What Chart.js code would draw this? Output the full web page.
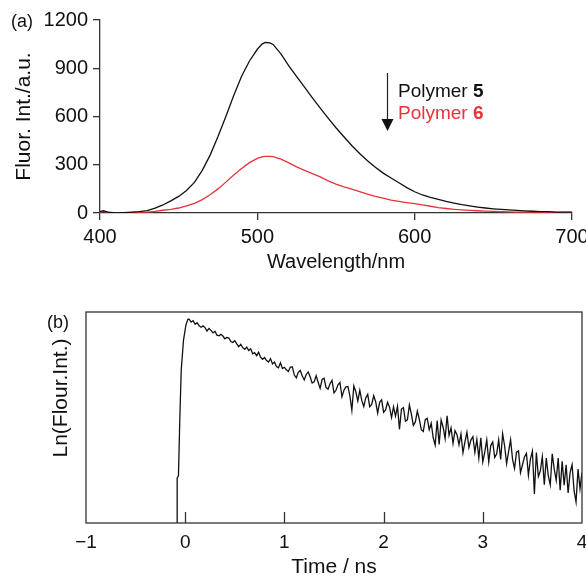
<!DOCTYPE html>
<html><head><meta charset="utf-8">
<script src="https://cdn.jsdelivr.net/npm/chart.js@4/dist/chart.umd.min.js"></script>
<style>
html,body{margin:0;padding:0;background:#fff;overflow:hidden;width:586px;height:577px;}
#wa{position:absolute;left:0;top:0;}
#wb{position:absolute;left:0;top:290px;}
</style></head><body>
<div id="wa"><canvas id="ca" width="600" height="290"></canvas></div>
<div id="wb"><canvas id="cb" width="600" height="300"></canvas></div>
<script>
// ---- Panel (a): fluorescence spectra ----
const wavelength = [400,402,405,410,415,420,425,430,435,440,445,450,455,460,465,470,475,480,485,490,495,500,503,505,508,510,515,520,525,530,535,540,545,550,555,560,565,570,575,580,585,590,595,600,605,610,615,620,625,630,635,640,645,650,655,660,665,670,675,680,685,690,695,700];
const polymer5 = [8,15,5,0,2,5,8,15,30,50,75,103,140,190,265,360,475,600,730,850,945,1018,1050,1060,1058,1048,990,915,848,782,716,652,590,530,474,420,370,325,285,248,218,188,158,132,112,97,84,72,62,52,44,37,31,26,22,19,16,13,11,9,8,6,5,5];
const polymer6 = [5,12,3,0,1,2,4,6,10,17,23,31,45,60,83,113,150,192,236,277,313,340,349,352,352,350,335,312,287,265,245,225,200,180,162,148,133,118,104,92,80,72,65,58,50,42,34,28,23,19,16,14,12,10,8,7,6,5,5,4,4,3,3,3];
const xTicksA = [400,500,600,700];
const yTicksA = [0,300,600,900,1200];
const seriesNamesA = ['Polymer ', '5', 'Polymer ', '6'];

// ---- Panel (b): fluorescence decay ----
const decayTime = [-0.081,-0.081,-0.068,-0.055,-0.04,-0.017,0.007,0.027,
0.04,0.06,0.08,0.10,0.12,0.14,0.16,0.18,0.20,0.22,
0.24,0.26,0.28,0.30,0.32,0.34,0.36,0.38,0.40,0.42,
0.44,0.46,0.48,0.50,0.52,0.54,0.56,0.58,0.60,0.62,
0.64,0.66,0.68,0.70,0.72,0.74,0.76,0.78,0.80,0.82,
0.84,0.86,0.88,0.90,0.92,0.94,0.96,0.98,1.00,1.02,
1.04,1.06,1.08,1.10,1.12,1.14,1.16,1.18,1.20,1.22,
1.24,1.26,1.28,1.30,1.32,1.34,1.36,1.38,1.40,1.42,
1.44,1.46,1.48,1.50,1.52,1.54,1.56,1.58,1.60,1.62,
1.64,1.66,1.68,1.70,1.72,1.74,1.76,1.78,1.80,1.82,
1.84,1.86,1.88,1.90,1.92,1.94,1.96,1.98,2.00,2.02,
2.04,2.06,2.08,2.10,2.12,2.14,2.16,2.18,2.20,2.22,
2.24,2.26,2.28,2.30,2.32,2.34,2.36,2.38,2.40,2.42,
2.44,2.46,2.48,2.50,2.52,2.54,2.56,2.58,2.60,2.62,
2.64,2.66,2.68,2.70,2.72,2.74,2.76,2.78,2.80,2.82,
2.84,2.86,2.88,2.90,2.92,2.94,2.96,2.98,3.00,3.02,
3.04,3.06,3.08,3.10,3.12,3.14,3.16,3.18,3.20,3.22,
3.24,3.26,3.28,3.30,3.32,3.34,3.36,3.38,3.40,3.42,
3.44,3.46,3.48,3.50,3.52,3.54,3.56,3.58,3.60,3.62,
3.64,3.66,3.68,3.70,3.72,3.74,3.76,3.78,3.80,3.82,
3.84,3.86,3.88,3.90,3.92,3.94,3.96,3.98,4.00];
const decayLn = [0,21.3,22.5,48,72.5,86.7,93.8,96.5,
96.6,95.2,95.9,94.2,94.9,93.5,92.8,93.4,92.6,91.0,
92.2,91.3,90.1,90.9,89.0,88.7,89.4,88.6,87.3,87.9,
87.7,86.0,85.6,86.4,84.9,83.6,84.7,83.1,82.3,83.4,
81.8,82.6,80.2,80.7,79.3,80.9,78.6,77.6,78.4,77.0,
76.3,77.9,75.4,76.3,74.2,73.6,75.9,73.2,73.8,72.6,
71.8,73.9,74.0,70.1,68.8,71.4,72.3,69.7,67.8,70.4,
71.6,69.2,66.3,66.9,69.8,66.7,63.8,68.0,68.6,64.2,
63.4,66.0,67.6,61.7,62.9,65.5,66.6,59.8,62.9,64.5,
64.7,60.3,53.4,65.0,62.2,57.8,62.9,58.1,55.2,59.3,
61.0,55.1,56.2,60.3,57.5,52.1,57.2,58.4,52.5,53.6,
57.2,54.9,50.0,55.1,50.7,55.3,44.4,54.0,54.7,48.3,
48.9,56.0,51.6,46.3,47.9,53.0,49.1,44.2,43.4,49.0,
49.6,44.2,47.3,40.4,37.0,48.6,37.2,48.8,45.4,40.0,
50.8,41.5,45.1,37.7,43.8,41.9,37.1,42.2,33.3,38.4,
43.0,35.7,39.3,40.9,33.5,39.6,30.8,40.4,29.0,33.7,
39.4,29.0,36.7,38.4,31.1,32.8,39.4,30.1,42.3,36.5,
28.2,33.8,39.5,30.2,25.9,33.6,34.2,23.9,27.6,31.3,
33.0,22.6,30.3,34.0,13.7,33.4,22.0,24.7,31.4,18.1,
30.8,22.4,18.1,32.8,25.5,20.2,30.8,15.5,29.2,17.9,
27.6,14.2,23.9,27.6,15.3,10.0,25.6,16.3,24.0];
const xTicksB = [-1,0,1,2,3,4];

const FONT = '"Liberation Sans", Arial, Helvetica, sans-serif';
const AXC = '#333';
const RED = 'rgb(232,50,60)';
Chart.defaults.font.family = FONT;
Chart.defaults.color = '#111';

function pts(xs, ys){ return xs.map((x,i)=>({x:x,y:ys[i]})); }
function setTicks(arr){ return function(s){ s.ticks = arr.map(v=>({value:v})); }; }
const plainFmt = v => String(v);
const minusFmt = v => (v < 0 ? '\u2212' + Math.abs(v) : String(v));

// annotations for (a)
const annoA = {
  id:'annoA',
  afterDraw(chart){
    const ctx = chart.ctx;
    ctx.save();
    ctx.fillStyle = '#111';
    ctx.font = '18px ' + FONT;
    ctx.textAlign = 'left'; ctx.textBaseline = 'middle';
    ctx.fillText('(a)', 11, 22);
    // arrow
    ctx.strokeStyle = '#222'; ctx.lineWidth = 1.2;
    ctx.beginPath(); ctx.moveTo(387.5, 73); ctx.lineTo(387.5, 121); ctx.stroke();
    ctx.fillStyle = '#111';
    ctx.beginPath(); ctx.moveTo(381.5, 119); ctx.lineTo(393.5, 119); ctx.lineTo(387.5, 131); ctx.closePath(); ctx.fill();
    // legend text
    ctx.textBaseline = 'alphabetic';
    const rows = [[seriesNamesA[0], seriesNamesA[1], '#111', 97],[seriesNamesA[2], seriesNamesA[3], RED, 119]];
    rows.forEach(r=>{
      ctx.fillStyle = r[2];
      ctx.font = '19px ' + FONT;
      ctx.fillText(r[0], 398, r[3]);
      const w = ctx.measureText(r[0]).width;
      ctx.font = 'bold 19px ' + FONT;
      ctx.fillText(r[1], 398 + w, r[3]);
    });
    ctx.restore();
  }
};

new Chart(document.getElementById('ca'), {
  type:'line',
  data:{ datasets:[
    {label:'Polymer 5', data:pts(wavelength, polymer5), borderColor:'#111', borderWidth:1.3, pointRadius:0, tension:0},
    {label:'Polymer 6', data:pts(wavelength, polymer6), borderColor:RED, borderWidth:1.3, pointRadius:0, tension:0}
  ]},
  options:{
    responsive:false, animation:false, devicePixelRatio:1,
    layout:{padding:{left:0, right:28, top:20, bottom:0}},
    plugins:{legend:{display:false}, tooltip:{enabled:false}},
    scales:{
      x:{type:'linear', min:400, max:700,
        afterBuildTicks:setTicks(xTicksA),
        afterFit(s){ s.height = 77; },
        grid:{display:true, drawOnChartArea:false, drawTicks:true, tickLength:7, color:AXC, lineWidth:1.3},
        border:{display:true, color:AXC, width:1.3},
        ticks:{font:{size:20}, color:'#111', padding:5, maxRotation:0, callback:plainFmt},
        title:{display:true, text:'Wavelength/nm', font:{size:20}, color:'#111', padding:{top:0,bottom:16}}
      },
      y:{type:'linear', min:0, max:1200,
        afterBuildTicks:setTicks(yTicksA),
        afterFit(s){ s.width = 100; },
        grid:{display:true, drawOnChartArea:false, drawTicks:true, tickLength:7, color:AXC, lineWidth:1.3},
        border:{display:true, color:AXC, width:1.3},
        ticks:{font:{size:20}, color:'#111', padding:5, callback:plainFmt},
        title:{display:true, text:'Fluor. Int./a.u.', font:{size:21}, color:'#111', padding:{top:12,bottom:0}}
      }
    }
  },
  plugins:[annoA]
});

// annotations for (b)
const annoB = {
  id:'annoB',
  afterDraw(chart){
    const {ctx, chartArea:a, scales:{x}} = chart;
    ctx.save();
    ctx.strokeStyle = AXC; ctx.lineWidth = 1.3;
    ctx.strokeRect(a.left, a.top, a.right - a.left, a.bottom - a.top);
    x.ticks.forEach(t=>{
      if (t.value > x.min && t.value < x.max){
        const px = Math.round(x.getPixelForValue(t.value)) + 0.5;
        ctx.beginPath(); ctx.moveTo(px, a.bottom); ctx.lineTo(px, a.bottom - 11); ctx.stroke();
      }
    });
    ctx.fillStyle = '#111';
    ctx.font = '18px ' + FONT;
    ctx.textAlign = 'left'; ctx.textBaseline = 'middle';
    ctx.fillText('(b)', 47, 33);
    ctx.font = '21px ' + FONT;
    ctx.translate(61, 108); ctx.rotate(-Math.PI/2);
    ctx.textAlign = 'center'; ctx.textBaseline = 'middle';
    ctx.fillText('Ln(Flour.Int.)', 0, 0);
    ctx.restore();
  }
};

new Chart(document.getElementById('cb'), {
  type:'line',
  data:{ datasets:[
    {label:'decay', data:pts(decayTime, decayLn), borderColor:'#111', borderWidth:1.3, pointRadius:0, tension:0}
  ]},
  options:{
    responsive:false, animation:false, devicePixelRatio:1,
    layout:{padding:{left:0, right:18, top:22, bottom:0}},
    plugins:{legend:{display:false}, tooltip:{enabled:false}},
    scales:{
      x:{type:'linear', min:-1, max:4,
        afterBuildTicks:setTicks(xTicksB),
        afterFit(s){ s.height = 67; },
        grid:{display:false},
        border:{display:false},
        ticks:{font:{size:19}, color:'#111', padding:0, maxRotation:0, callback:minusFmt},
        title:{display:true, text:'Time / ns', font:{size:21}, color:'#111', padding:{top:0,bottom:10}}
      },
      y:{type:'linear', min:0, max:100,
        afterFit(s){ s.width = 86; },
        grid:{display:false},
        border:{display:false},
        ticks:{display:false},
        title:{display:false}
      }
    }
  },
  plugins:[annoB]
});
</script>
</body></html>
